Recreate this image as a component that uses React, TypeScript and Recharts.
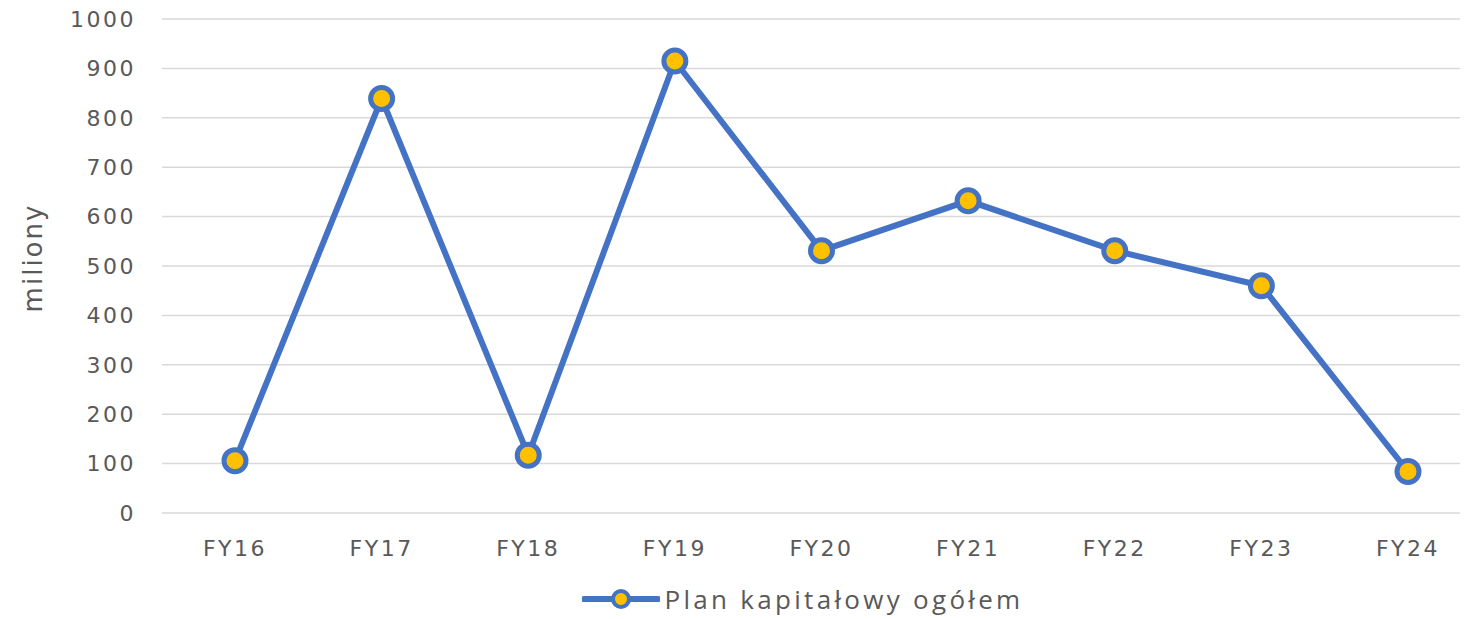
import React from 'react';
import { LineChart, Line, XAxis, YAxis, CartesianGrid, Legend } from 'recharts';

const categories = ['FY16', 'FY17', 'FY18', 'FY19', 'FY20', 'FY21', 'FY22', 'FY23', 'FY24'];
const planValues = [106, 839, 117, 915, 531, 632, 531, 460, 84];
const yTicks = [0, 100, 200, 300, 400, 500, 600, 700, 800, 900, 1000];
const seriesName = 'Plan kapitałowy ogółem';
const yAxisTitle = 'miliony';

const data = categories.map((c, i) => ({ name: c, value: planValues[i] }));

const BLUE = '#4472C4';
const GOLD = '#FFC000';
const TEXT = '#595959';
const FONT = '"DejaVu Sans", Verdana, sans-serif';

const LegendContent = () => (
  <div
    style={{
      height: 46,
      display: 'flex',
      justifyContent: 'center',
      alignItems: 'center',
      paddingLeft: 120,
      paddingTop: 6,
      boxSizing: 'border-box',
      fontFamily: '"Open Sans", sans-serif',
    }}
  >
    <svg width={78} height={30} style={{ display: 'block' }}>
      <line x1={2} y1={15} x2={76} y2={15} stroke={BLUE} strokeWidth={6} strokeLinecap="round" />
      <circle cx={39} cy={15} r={8} fill={GOLD} stroke={BLUE} strokeWidth={4} />
    </svg>
    <span style={{ fontSize: 26, lineHeight: '30px', color: TEXT, marginLeft: 4, letterSpacing: 3.3 }}>{seriesName}</span>
  </div>
);

const YTitle = (props: any) => {
  const vb = props.viewBox || { x: 0, y: 0, width: 0, height: 0 };
  const cx = vb.x + 25;
  const cy = vb.y + vb.height / 2 - 8;
  return (
    <text
      x={cx}
      y={cy}
      transform={`rotate(-90 ${cx} ${cy})`}
      textAnchor="middle"
      dominantBaseline="central"
      fill={TEXT}
      fontSize={26}
      fontFamily={FONT}
      letterSpacing={2}
    >
      {yAxisTitle}
    </text>
  );
};

export default function App() {
  return (
    <LineChart
      width={1470}
      height={611}
      data={data}
      margin={{ top: 11, right: 18, left: 0, bottom: 0 }}
    >
      <CartesianGrid horizontal vertical={false} stroke="#D9D9D9" strokeWidth={1.5} />
      <XAxis
        dataKey="name"
        axisLine={false}
        tickLine={false}
        tickSize={0}
        tickMargin={27}
        height={60}
        padding={{ left: 73, right: 52 }}
        tick={{ fill: TEXT, fontSize: 22, fontFamily: FONT, letterSpacing: 2.5 }}
        interval={0}
      />
      <YAxis
        width={154}
        domain={[0, 1000]}
        ticks={yTicks}
        axisLine={false}
        tickLine={false}
        tickSize={0}
        tickMargin={26}
        interval={0}
        tick={{ fill: TEXT, fontSize: 22, fontFamily: FONT, letterSpacing: 2.5 }}
        label={<YTitle />}
      />
      <Legend verticalAlign="bottom" height={46} content={<LegendContent />} wrapperStyle={{ left: 0, width: 1470 }} />
      <Line
        type="linear"
        dataKey="value"
        name={seriesName}
        stroke={BLUE}
        strokeWidth={6}
        dot={{ r: 11, fill: GOLD, stroke: BLUE, strokeWidth: 5 }}
        activeDot={false}
        isAnimationActive={false}
      />
    </LineChart>
  );
}
